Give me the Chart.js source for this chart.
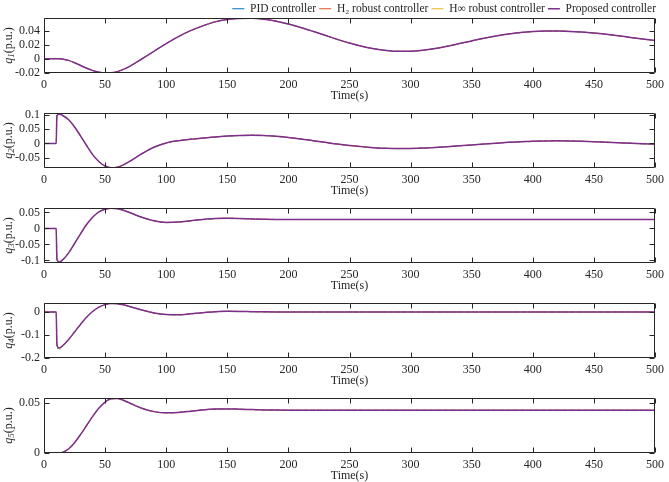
<!DOCTYPE html>
<html lang="en">
<head>
<meta charset="utf-8">
<script src="https://cdn.jsdelivr.net/npm/chart.js"></script>
<style>
  body { margin: 0; background: #ffffff; }
  #wrap { position: relative; width: 669px; height: 482px; overflow: hidden; }
  #wrap canvas { position: absolute; left: 0; }
</style>
</head>
<body>
<div id="wrap">
  <canvas id="c1" width="669" height="105" style="top:0px"></canvas>
  <canvas id="c2" width="669" height="105" style="top:95px"></canvas>
  <canvas id="c3" width="669" height="105" style="top:190px"></canvas>
  <canvas id="c4" width="669" height="105" style="top:285px"></canvas>
  <canvas id="c5" width="669" height="105" style="top:380px"></canvas>
</div>
<script>
// time samples (s)
const time = [0, 5, 10, 10.5, 11, 12, 13, 15, 20, 25, 30, 35, 40, 45, 50, 55, 60, 65, 70,
  80, 90, 100, 110, 120, 130, 140, 150, 160, 170, 180, 190, 200, 210, 220, 230, 240, 250,
  260, 270, 280, 290, 300, 310, 320, 330, 340, 350, 360, 370, 380, 390, 400, 410, 420, 430,
  440, 450, 460, 470, 480, 490, 500];

const xTicks = [0, 50, 100, 150, 200, 250, 300, 350, 400, 450, 500];
const labels = ['PID controller', 'H\u2082 robust controller', 'H\u221E robust controller', 'Proposed controller'];

// proposed controller responses
const q1 = [0, 0, 0, 0, 0, -0.0001, -0.0002, -0.0006, -0.0025, -0.0058, -0.0098, -0.0138, -0.0171, -0.0193, -0.0204, -0.0202, -0.0185, -0.0153, -0.0110,
  -0.0005, 0.0105, 0.0215, 0.0315, 0.0400, 0.0468, 0.0525, 0.0558, 0.0574, 0.0576, 0.0563, 0.0535, 0.0494, 0.0445, 0.0390, 0.0333, 0.0275, 0.0222,
  0.0177, 0.0141, 0.0116, 0.0104, 0.0106, 0.0120, 0.0145, 0.0178, 0.0215, 0.0253, 0.0290, 0.0323, 0.0351, 0.0372, 0.0386, 0.0393, 0.0394, 0.0389,
  0.0379, 0.0365, 0.0347, 0.0326, 0.0303, 0.0280, 0.0258];
const q2 = [0, 0, 0, 0.094, 0.100, 0.103, 0.103, 0.099, 0.084, 0.058, 0.026, -0.008, -0.040, -0.064, -0.079, -0.085, -0.083, -0.075, -0.063,
  -0.036, -0.013, 0.002, 0.010, 0.015, 0.019, 0.023, 0.026, 0.028, 0.029, 0.028, 0.025, 0.021, 0.016, 0.010, 0.004, -0.002, -0.007,
  -0.011, -0.015, -0.017, -0.018, -0.0175, -0.016, -0.014, -0.011, -0.008, -0.005, -0.002, 0.001, 0.004, 0.006, 0.008, 0.009, 0.0092, 0.0088,
  0.0078, 0.0064, 0.0047, 0.0028, 0.0008, -0.0010, -0.0025];
const q3 = [0, 0, 0, -0.092, -0.100, -0.104, -0.104, -0.099, -0.077, -0.047, -0.016, 0.013, 0.036, 0.052, 0.060, 0.063, 0.062, 0.057, 0.050,
  0.035, 0.024, 0.019, 0.020, 0.024, 0.028, 0.031, 0.032, 0.0312, 0.0298, 0.0287, 0.0281, 0.0280, 0.0281, 0.0281, 0.0281, 0.0281, 0.0281,
  0.0281, 0.0281, 0.0281, 0.0281, 0.0281, 0.0281, 0.0281, 0.0281, 0.0281, 0.0281, 0.0281, 0.0281, 0.0281, 0.0281, 0.0281, 0.0281, 0.0281, 0.0281,
  0.0281, 0.0281, 0.0281, 0.0281, 0.0281, 0.0281, 0.0281];
const q4 = [0, 0, 0, -0.135, -0.150, -0.156, -0.155, -0.148, -0.121, -0.087, -0.053, -0.022, 0.003, 0.021, 0.032, 0.037, 0.036, 0.031, 0.024,
  0.009, -0.004, -0.011, -0.012, -0.008, -0.003, 0.001, 0.003, 0.0025, 0.0015, 0.0005, 0, -0.0002, 0, 0, 0, 0, 0,
  0, 0, 0, 0, 0, 0, 0, 0, 0, 0, 0, 0, 0, 0, 0, 0, 0, 0,
  0, 0, 0, 0, 0, 0, 0];
const q5 = [0, 0, 0, 0, 0, 0, 0.0001, 0.0006, 0.0040, 0.0102, 0.0185, 0.0275, 0.0365, 0.0445, 0.0505, 0.0538, 0.0540, 0.0522, 0.0495,
  0.0443, 0.0410, 0.0398, 0.0402, 0.0414, 0.0427, 0.0435, 0.0437, 0.0434, 0.0430, 0.0427, 0.0425, 0.0424, 0.0424, 0.0424, 0.0424, 0.0424, 0.0424,
  0.0424, 0.0424, 0.0424, 0.0424, 0.0424, 0.0424, 0.0424, 0.0424, 0.0424, 0.0424, 0.0424, 0.0424, 0.0424, 0.0424, 0.0424, 0.0424, 0.0424, 0.0424,
  0.0424, 0.0424, 0.0424, 0.0424, 0.0424, 0.0424, 0.0424];

// where the other controllers differ (t = 10.5, 11, 12, 13, 15)
const q2Pid = [0.098, 0.104, 0.107, 0.105, 0.100];
const q2H2 = [0.095, 0.101, 0.104, 0.104, 0.099];
const q2Hinf = [0.094, 0.100, 0.104, 0.1045, 0.100];
const q3Pid = [-0.095, -0.103, -0.107, -0.106, -0.100];
const q3H2 = [-0.093, -0.101, -0.105, -0.105, -0.099];
const q3Hinf = [-0.093, -0.101, -0.106, -0.1055, -0.100];
const q4Pid = [-0.140, -0.156, -0.163, -0.160, -0.150];
const q4H2 = [-0.137, -0.152, -0.158, -0.157, -0.149];
const q4Hinf = [-0.137, -0.152, -0.157, -0.1575, -0.149];

// y ticks and limits per panel
const yTicks = [[-0.02, 0, 0.02, 0.04], [-0.05, 0, 0.05, 0.1], [-0.1, -0.05, 0, 0.05], [-0.2, -0.1, 0], [0, 0.05]];
const yLims = [[-0.0205, 0.058], [-0.086, 0.107], [-0.108, 0.064], [-0.2, 0.039], [0, 0.0545]];

function withPeak(base, peak) {
  return peak ? base.slice(0, 3).concat(peak, base.slice(8)) : base;
}
function pts(vals) {
  return vals.map((v, i) => ({ x: time[i], y: v }));
}

const panels = [
  { q: q1, pid: null, h2: null, hinf: null },
  { q: q2, pid: q2Pid, h2: q2H2, hinf: q2Hinf },
  { q: q3, pid: q3Pid, h2: q3H2, hinf: q3Hinf },
  { q: q4, pid: q4Pid, h2: q4H2, hinf: q4Hinf },
  { q: q5, pid: null, h2: null, hinf: null }
];

Chart.defaults.font.family = "'Liberation Serif', 'Times New Roman', serif";
Chart.defaults.font.size = 12;
Chart.defaults.color = '#262626';

// MATLAB style box with inward ticks + y label with subscript
const matlabAxes = {
  id: 'matlabAxes',
  afterDatasetsDraw(chart, args, opts) {
    const { ctx, chartArea: a, scales: { x, y } } = chart;
    ctx.save();
    ctx.strokeStyle = '#262626';
    ctx.lineWidth = 1;
    const L = Math.round(a.left) + 0.5, R = Math.round(a.right) - 0.5;
    const T = Math.round(a.top) + 0.5, B = Math.round(a.bottom) - 0.5;
    ctx.beginPath();
    ctx.rect(L, T, R - L, B - T);
    x.ticks.forEach(t => {
      const px = Math.round(x.getPixelForValue(t.value)) + 0.5;
      ctx.moveTo(px, B); ctx.lineTo(px, B - 5);
      ctx.moveTo(px, T); ctx.lineTo(px, T + 5);
    });
    y.ticks.forEach(t => {
      const py = Math.round(y.getPixelForValue(t.value)) + 0.5;
      ctx.moveTo(L, py); ctx.lineTo(L + 5, py);
      ctx.moveTo(R, py); ctx.lineTo(R - 5, py);
    });
    ctx.stroke();

    // y title: q_n(p.u.)
    const fam = Chart.defaults.font.family;
    const fq = 'italic 12px ' + fam, fs = 'italic 9px ' + fam, fp = '12px ' + fam;
    ctx.font = fq; const wq = ctx.measureText('q').width;
    ctx.font = fs; const ws = ctx.measureText(opts.n).width;
    ctx.font = fp; const wp = ctx.measureText('(p.u.)').width;
    const w = wq + ws + wp;
    ctx.translate(9, (a.top + a.bottom) / 2);
    ctx.rotate(-Math.PI / 2);
    ctx.fillStyle = '#262626';
    ctx.textBaseline = 'middle';
    ctx.textAlign = 'left';
    let cx = -w / 2;
    ctx.font = fq; ctx.fillText('q', cx, 0); cx += wq;
    ctx.font = fs; ctx.fillText(opts.n, cx, 3); cx += ws;
    ctx.font = fp; ctx.fillText('(p.u.)', cx, 0);
    ctx.restore();
  }
};

panels.forEach((p, k) => {
  const ctx = document.getElementById('c' + (k + 1)).getContext('2d');
  new Chart(ctx, {
    type: 'line',
    data: {
      datasets: [
        { label: labels[0], data: pts(withPeak(p.q, p.pid)), borderColor: '#0072BD', borderWidth: 1, borderDash: [1.5, 1.5], order: 3 },
        { label: labels[1], data: pts(withPeak(p.q, p.h2)), borderColor: '#D95319', borderWidth: 1, borderDash: [4, 3], order: 2 },
        { label: labels[2], data: pts(withPeak(p.q, p.hinf)), borderColor: '#EDB120', borderWidth: 1, borderDash: [4, 2, 1.5, 2], order: 1 },
        { label: labels[3], data: pts(p.q), borderColor: '#7E2F8E', borderWidth: 1.5, order: 0 }
      ]
    },
    options: {
      responsive: false,
      animation: false,
      elements: { point: { radius: 0 }, line: { cubicInterpolationMode: 'monotone', fill: false } },
      layout: { padding: { top: k === 0 ? 0 : 18, right: 10, left: 0, bottom: 0 } },
      scales: {
        x: {
          type: 'linear', min: 0, max: 500,
          afterBuildTicks: s => { s.ticks = xTicks.map(v => ({ value: v })); },
          afterFit: s => { s.height = 32; },
          grid: { display: false, drawTicks: false },
          border: { display: false },
          ticks: { padding: 5, maxRotation: 0, color: '#262626', font: { size: 12 } },
          title: { display: true, text: 'Time(s)', color: '#262626', font: { size: 12 }, padding: { top: 0, bottom: 2 } }
        },
        y: {
          type: 'linear', min: yLims[k][0], max: yLims[k][1],
          afterBuildTicks: s => { s.ticks = yTicks[k].map(v => ({ value: v })); },
          afterFit: s => { s.width = 44; },
          grid: { display: false, drawTicks: false },
          border: { display: false },
          ticks: { padding: 4, color: '#262626', font: { size: 12 }, callback: v => String(v) }
        }
      },
      plugins: {
        legend: {
          display: k === 0,
          position: 'top',
          align: 'end',
          maxHeight: 18,
          labels: {
            usePointStyle: true, pointStyle: 'line', pointStyleWidth: 12,
            padding: 3, color: '#262626', font: { size: 11.5 },
            sort: (a, b) => a.datasetIndex - b.datasetIndex
          }
        },
        tooltip: { enabled: false },
        matlabAxes: { n: String(k + 1) }
      }
    },
    plugins: [matlabAxes]
  });
});
</script>
</body>
</html>
